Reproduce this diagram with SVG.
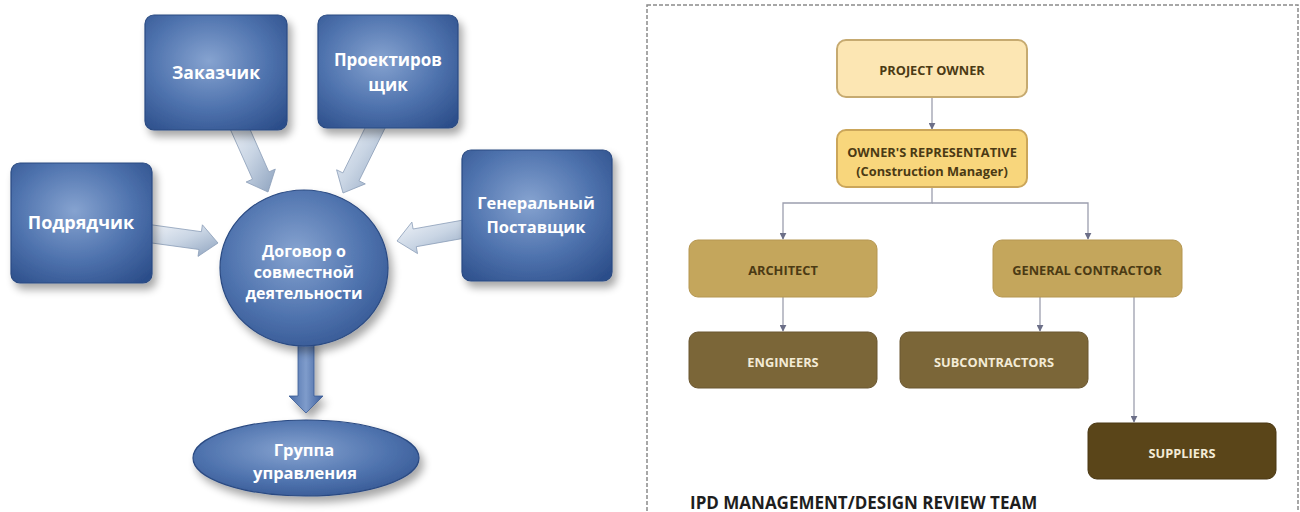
<svg xmlns="http://www.w3.org/2000/svg" width="1300" height="512" viewBox="0 0 1300 512">
<defs>
  <radialGradient id="gBlue" cx="0.45" cy="0.4" r="0.75">
    <stop offset="0" stop-color="#86A3D0"/>
    <stop offset="0.55" stop-color="#4F73AE"/>
    <stop offset="1" stop-color="#2C4E8A"/>
  </radialGradient>
  <linearGradient id="gArrow" x1="0" y1="0" x2="1" y2="1">
    <stop offset="0" stop-color="#F2F5FA"/>
    <stop offset="0.5" stop-color="#C9D5E4"/>
    <stop offset="1" stop-color="#8EA3BF"/>
  </linearGradient>
  <linearGradient id="gDown" x1="0" y1="0" x2="1" y2="0">
    <stop offset="0" stop-color="#4A6DA8"/>
    <stop offset="0.5" stop-color="#7F9CCB"/>
    <stop offset="1" stop-color="#3D5F9C"/>
  </linearGradient>
  <filter id="sh" x="-20%" y="-20%" width="150%" height="150%">
    <feGaussianBlur in="SourceAlpha" stdDeviation="4"/>
    <feOffset dx="4" dy="6" result="b"/>
    <feComponentTransfer><feFuncA type="linear" slope="0.35"/></feComponentTransfer>
    <feMerge><feMergeNode/><feMergeNode in="SourceGraphic"/></feMerge>
  </filter>
  <marker id="ah" viewBox="0 0 10 10" refX="9" refY="5" markerWidth="7" markerHeight="7" orient="auto" markerUnits="userSpaceOnUse">
    <path d="M0,0 L10,5 L0,10 Z" fill="#6C6F88"/>
  </marker>
  <style>
    .bx{fill:url(#gBlue);stroke:#2A4A82;stroke-width:1.2;filter:url(#sh)}
    .wt{font-family:"Open Sans","DejaVu Sans",sans-serif;font-weight:bold;fill:#FFFFFF;text-anchor:middle}
    .ar{fill:url(#gArrow);stroke:#8A9DB8;stroke-width:0.8}
    .cn{fill:none;stroke:#9C9EAE;stroke-width:1.3}
    .rt{font-family:"Open Sans","DejaVu Sans",sans-serif;font-weight:bold;font-size:12.8px;text-anchor:middle}
    .dk{fill:#4B3A14}
    .lt{fill:#F3EBD6}
  </style>
</defs>
<rect width="1300" height="512" fill="#FFFFFF"/>

<!-- Left panel connectors -->
<g id="connectors-left">
  <polygon class="ar" points="227.8,123.7 252.5,179.2 246.1,182 268,192 275.3,169.1 268.9,171.9 244.2,116.3"/>
  <polygon class="ar" points="370.9,116 342.9,172.9 336.6,169.8 343,193 365.3,183.9 359,180.8 387.1,124"/>
  <polygon class="ar" points="143.8,241.9 199,249.5 198,256.4 218,243 202.4,224.8 201.4,231.7 146.2,224.1"/>
  <polygon class="ar" points="468.4,219.1 413.1,229 411.9,222.1 397,241 417.5,253.6 416.3,246.7 471.6,236.9"/>
  <polygon points="298,340 314,340 314,396 323,396 306,413 289,396 298,396" fill="url(#gDown)" stroke="#3A5B94" stroke-width="0.8" filter="url(#sh)"/>
</g>

<g id="n-zakazchik">
  <rect class="bx" x="145" y="15" width="142" height="115" rx="9"/>
  <text class="wt" x="216" y="79" font-size="17.5">Заказчик</text>
</g>
<g id="n-proektirovshchik">
  <rect class="bx" x="318" y="15" width="140" height="113" rx="9"/>
  <text class="wt" x="388" y="66" font-size="17">Проектиров</text>
  <text class="wt" x="388" y="91" font-size="17">щик</text>
</g>
<g id="n-podryadchik">
  <rect class="bx" x="11" y="163" width="141" height="120" rx="9"/>
  <text class="wt" x="81" y="229" font-size="18">Подрядчик</text>
</g>
<g id="n-gen-postavshchik">
  <rect class="bx" x="462" y="150" width="150" height="131" rx="9"/>
  <text class="wt" x="536" y="209" font-size="16.5">Генеральный</text>
  <text class="wt" x="536" y="233" font-size="16.5">Поставщик</text>
</g>
<g id="n-dogovor">
  <ellipse class="bx" cx="304" cy="268" rx="84" ry="78"/>
  <text class="wt" x="304" y="257" font-size="16">Договор о</text>
  <text class="wt" x="304" y="278" font-size="16">совместной</text>
  <text class="wt" x="304" y="299" font-size="16">деятельности</text>
</g>
<g id="n-gruppa">
  <ellipse class="bx" cx="306" cy="458" rx="113" ry="38"/>
  <text class="wt" x="304" y="456" font-size="16.5">Группа</text>
  <text class="wt" x="305" y="479" font-size="16.5">управления</text>
</g>

<!-- Right panel -->
<rect id="frame" x="647" y="5" width="651" height="520" fill="none" stroke="#8A8A8A" stroke-width="1.5" stroke-dasharray="4 2"/>

<g id="connectors-right">
  <line class="cn" x1="932" y1="97" x2="932" y2="129" marker-end="url(#ah)"/>
  <polyline class="cn" points="932,187 932,203 783,203 783,239" marker-end="url(#ah)"/>
  <polyline class="cn" points="932,203 1088,203 1088,239" marker-end="url(#ah)"/>
  <line class="cn" x1="783" y1="297" x2="783" y2="331" marker-end="url(#ah)"/>
  <line class="cn" x1="1040" y1="297" x2="1040" y2="331" marker-end="url(#ah)"/>
  <line class="cn" x1="1134" y1="297" x2="1134" y2="422" marker-end="url(#ah)"/>
</g>

<g id="n-project-owner">
  <rect x="837" y="40" width="190" height="57" rx="9" fill="#FCE6B3" stroke="#C6AA70" stroke-width="2"/>
  <text class="rt dk" x="932" y="75">PROJECT OWNER</text>
</g>
<g id="n-owners-rep">
  <rect x="837" y="130" width="190" height="57" rx="9" fill="#F8D67C" stroke="#CBA65A" stroke-width="2"/>
  <text class="rt dk" x="932" y="157">OWNER'S REPRESENTATIVE</text>
  <text class="rt dk" x="932" y="176">(Construction Manager)</text>
</g>
<g id="n-architect">
  <rect x="689" y="240" width="188" height="57" rx="9" fill="#C4A65C" stroke="#B59650" stroke-width="1"/>
  <text class="rt dk" x="783" y="275">ARCHITECT</text>
</g>
<g id="n-general-contractor">
  <rect x="993" y="240" width="189" height="57" rx="9" fill="#C4A65C" stroke="#B59650" stroke-width="1"/>
  <text class="rt dk" x="1087" y="275">GENERAL CONTRACTOR</text>
</g>
<g id="n-engineers">
  <rect x="689" y="332" width="188" height="56" rx="9" fill="#7B6638" stroke="#6A5630" stroke-width="1"/>
  <text class="rt lt" x="783" y="367">ENGINEERS</text>
</g>
<g id="n-subcontractors">
  <rect x="900" y="332" width="188" height="56" rx="9" fill="#7B6638" stroke="#6A5630" stroke-width="1"/>
  <text class="rt lt" x="994" y="367">SUBCONTRACTORS</text>
</g>
<g id="n-suppliers">
  <rect x="1088" y="423" width="188" height="56" rx="9" fill="#5A4519" stroke="#4A3814" stroke-width="1"/>
  <text class="rt lt" x="1182" y="458">SUPPLIERS</text>
</g>
<text id="title" x="690" y="509" font-family="'Open Sans','DejaVu Sans',sans-serif" font-weight="bold" font-size="17" fill="#1E1E1E">IPD MANAGEMENT/DESIGN REVIEW TEAM</text>
</svg>
